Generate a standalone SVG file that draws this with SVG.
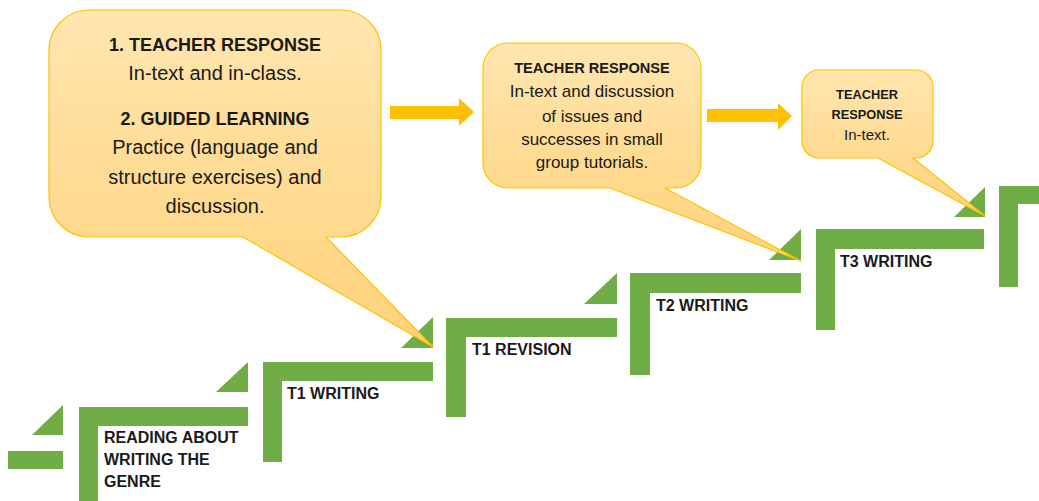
<svg xmlns="http://www.w3.org/2000/svg" width="1039" height="501" viewBox="0 0 1039 501">
<defs>
<linearGradient id="gold" x1="0" y1="0" x2="0" y2="1">
<stop offset="0" stop-color="#FFE6B0"/>
<stop offset="1" stop-color="#FFD27A"/>
</linearGradient>
<style>
.g{fill:#70AD47;}
.lbl{font-family:"Liberation Sans",Arial,sans-serif;font-weight:bold;font-size:16px;fill:#1a1a1a;}
.co{fill:url(#gold);stroke:#FFC000;stroke-width:1.2;stroke-linejoin:round;}
.t{font-family:"Liberation Sans",Arial,sans-serif;fill:#1a1a1a;text-anchor:middle;}
.b{font-weight:bold;}
.arr{fill:#FFC000;}
</style>
</defs>
<rect width="1039" height="501" fill="#ffffff"/>

<g id="step0">
<rect class="g" x="8" y="451" width="55" height="18"/>
<polygon class="g" points="32,435 63,405 63,435"/>
</g>

<g id="step1">
<path class="g" d="M79 407 H248 V426 H98 V505 H79 Z"/>
<polygon class="g" points="216,392 248,362 248,392"/>
<text class="lbl" x="104" y="443">READING ABOUT</text>
<text class="lbl" x="104" y="465">WRITING THE</text>
<text class="lbl" x="104" y="487">GENRE</text>
</g>

<g id="step2">
<path class="g" d="M263 362 H433 V381 H282 V462 H263 Z"/>
<polygon class="g" points="401,348 433,317 433,348"/>
<text class="lbl" x="287" y="399">T1 WRITING</text>
</g>

<g id="step3">
<path class="g" d="M446 318 H617 V337 H466 V417 H446 Z"/>
<polygon class="g" points="584,304 617,273 617,304"/>
<text class="lbl" x="472" y="355">T1 REVISION</text>
</g>

<g id="step4">
<path class="g" d="M630 273 H801 V293 H650 V375 H630 Z"/>
<polygon class="g" points="769,260 801,229 801,260"/>
<text class="lbl" x="656" y="311">T2 WRITING</text>
</g>

<g id="step5">
<path class="g" d="M816 229 H984 V249 H835 V330 H816 Z"/>
<polygon class="g" points="954,217 985,187 985,217"/>
<text class="lbl" x="840" y="267">T3 WRITING</text>
</g>

<g id="step6">
<path class="g" d="M999 186 H1039 V204 H1018 V287 H999 Z"/>
</g>

<g id="connectors">
<polygon class="arr" points="390,106 459,106 459,98 474,112 459,126 459,119 390,119"/>
<polygon class="arr" points="707,109 778,109 778,103 792,116 778,130 778,122 707,122"/>
</g>

<g id="callout1">
<path class="co" d="M89 10 H341 A40 40 0 0 1 381 50 V197 A40 40 0 0 1 341 237 H326 L433 347 L243 237 H89 A40 40 0 0 1 49 197 V50 A40 40 0 0 1 89 10 Z"/>
<text class="t b" x="215" y="51" font-size="18">1. TEACHER RESPONSE</text>
<text class="t" x="215" y="80" font-size="20">In-text and in-class.</text>
<text class="t b" x="215" y="125" font-size="18">2. GUIDED LEARNING</text>
<text class="t" x="215" y="154" font-size="20">Practice (language and</text>
<text class="t" x="215" y="184" font-size="20">structure exercises) and</text>
<text class="t" x="215" y="213" font-size="20">discussion.</text>
</g>

<g id="callout2">
<path class="co" d="M508 43 H676 A25 25 0 0 1 701 68 V163 A25 25 0 0 1 676 188 H665 L801 261 L610 188 H508 A25 25 0 0 1 483 163 V68 A25 25 0 0 1 508 43 Z"/>
<text class="t b" x="592" y="73" font-size="14.6">TEACHER RESPONSE</text>
<text class="t" x="592" y="97" font-size="17">In-text and discussion</text>
<text class="t" x="592" y="122" font-size="17">of issues and</text>
<text class="t" x="592" y="145" font-size="17">successes in small</text>
<text class="t" x="592" y="168" font-size="17">group tutorials.</text>
</g>

<g id="callout3">
<path class="co" d="M819 70 H916 A17 17 0 0 1 933 87 V141 A17 17 0 0 1 916 158 H913 L985 216 L878 158 H819 A17 17 0 0 1 802 141 V87 A17 17 0 0 1 819 70 Z"/>
<text class="t b" x="867" y="99" font-size="12.8">TEACHER</text>
<text class="t b" x="867" y="119" font-size="12.8">RESPONSE</text>
<text class="t" x="867" y="140" font-size="15">In-text.</text>
</g>
</svg>
